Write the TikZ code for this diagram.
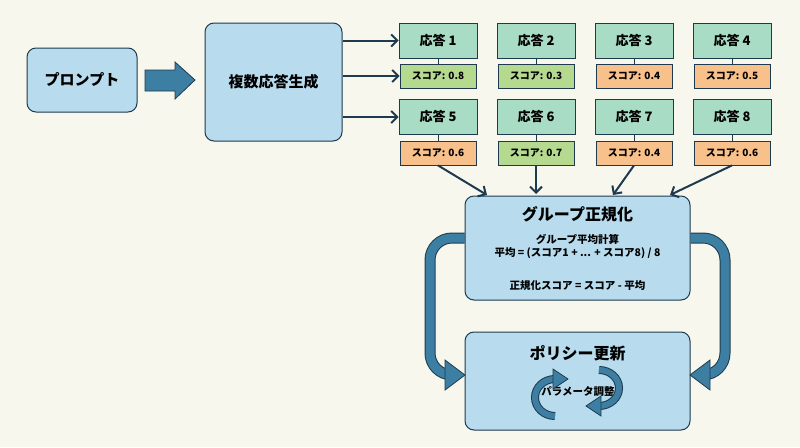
\documentclass[tikz,border=0pt]{standalone}
\usepackage{fontspec}
\setmainfont{Noto Sans CJK JP}
\usetikzlibrary{arrows.meta}
\definecolor{bgc}{HTML}{F7F7EE}
\definecolor{boxc}{HTML}{B8DCEE}
\definecolor{edgec}{HTML}{1E3A4E}
\definecolor{ansc}{HTML}{A9DCC4}
\definecolor{goodc}{HTML}{B5D98E}
\definecolor{badc}{HTML}{F8C08A}
\definecolor{arrc}{HTML}{3D7FA3}

\tikzset{
  block/.style={draw=edgec, fill=boxc, line width=1pt, rounded corners=9pt, align=center},
  answer/.style={draw=edgec, fill=ansc, line width=0.8pt, minimum width=78pt, minimum height=35pt, font=\bfseries\fontsize{13}{15}\selectfont},
  score/.style={draw=edgec, line width=0.8pt, minimum width=76pt, minimum height=24pt, font=\bfseries\fontsize{10}{12}\selectfont},
  link/.style={draw=edgec, line width=2pt, -{Straight Barb[length=6pt,width=12pt]}},
  bigflow/.style={draw=edgec, line width=1pt, double=arrc, double distance=9pt, rounded corners=22pt},
  head/.style={fill=arrc, draw=edgec, line width=0.8pt}
}

\begin{document}
\begin{tikzpicture}[x=1pt,y=-1pt]
  \fill[bgc] (0,0) rectangle (800,447);
  \useasboundingbox (0,0) rectangle (800,447);

  % left part
  \node[block, minimum width=110pt, minimum height=64pt, font=\bfseries\fontsize{15}{17}\selectfont] (prompt) at (82,80) {プロンプト};
  \node[block, minimum width=137pt, minimum height=118pt, font=\bfseries\fontsize{15}{17}\selectfont] (gen) at (273.5,82) {複数応答生成};
  \draw[head] (145,70) -- (175,70) -- (175,62) -- (195,80) -- (175,99) -- (175,91) -- (145,91) -- cycle;

  % answers and scores
  \foreach \i/\x/\s/\c in {1/438/0.8/goodc, 2/536/0.3/goodc, 3/634/0.4/badc, 4/732/0.5/badc}{
    \node[answer] (ans\i) at (\x,40.5) {応答 \i};
    \node[score, fill=\c] (sc\i) at (\x,76) {スコア: \s};
    \draw[edgec, line width=0.8pt] (ans\i) -- (sc\i);
  }
  \foreach \i/\x/\s/\c in {5/438/0.6/badc, 6/536/0.7/goodc, 7/634/0.4/badc, 8/732/0.6/badc}{
    \node[answer] (ans\i) at (\x,117) {応答 \i};
    \node[score, fill=\c] (sc\i) at (\x,153) {スコア: \s};
    \draw[edgec, line width=0.8pt] (ans\i) -- (sc\i);
  }

  \draw[link] (gen.east |- ans1) -- (ans1);
  \draw[link] (gen.east |- sc1) -- (sc1);
  \draw[link] (gen.east |- ans5) -- (ans5);

  % normalization and update
  \node[block, minimum width=225pt, minimum height=104pt] (norm) at (577.5,248) {};
  \node[font=\bfseries\fontsize{16}{18}\selectfont] (normt) at (577.5,214) {グループ正規化};
  \node[font=\bfseries\fontsize{10.5}{13}\selectfont, align=center] (normf) at (577.5,246) {グループ平均計算\\平均 = (スコア1 + ... + スコア8) / 8};
  \node[font=\bfseries\fontsize{10.5}{12}\selectfont] (norms) at (577.5,286) {正規化スコア = スコア - 平均};

  \node[block, minimum width=225pt, minimum height=98pt] (upd) at (577.5,381) {};
  \node[font=\bfseries\fontsize{16}{18}\selectfont] (updt) at (577.5,353) {ポリシー更新};
  \node[font=\bfseries\fontsize{10.5}{12}\selectfont] (param) at (578,392) {パラメータ調整};

  \draw[link] (sc5.south) -- (487,195);
  \draw[link] (sc6.south) -- (536,194);
  \draw[link] (sc7.south) -- (613,195);
  \draw[link] (sc8.south) -- (670,195);

  % loop arrows
  \draw[bigflow] (norm.west |- 0,238) -- (430,238) -- (430,375) -- (446,375);
  \draw[head] (445,360) -- (465,375) -- (445,390) -- cycle;
  \draw[bigflow] (norm.east |- 0,238) -- (725,238) -- (725,375) -- (709,375);
  \draw[head] (710,360) -- (690,375) -- (710,390) -- cycle;

  % small rotation arrows
  \draw[bigflow, double distance=6pt, rounded corners=0pt] (555,416) arc (-90:-270:20pt and 18.5pt);
  \draw[head] (553,369) -- (568,379) -- (553,389) -- cycle;
  \draw[bigflow, double distance=6pt, rounded corners=0pt] (599,370) arc (90:-90:20pt and 18pt);
  \draw[head] (601,396) -- (586,406) -- (601,416) -- cycle;
\end{tikzpicture}
\end{document}
